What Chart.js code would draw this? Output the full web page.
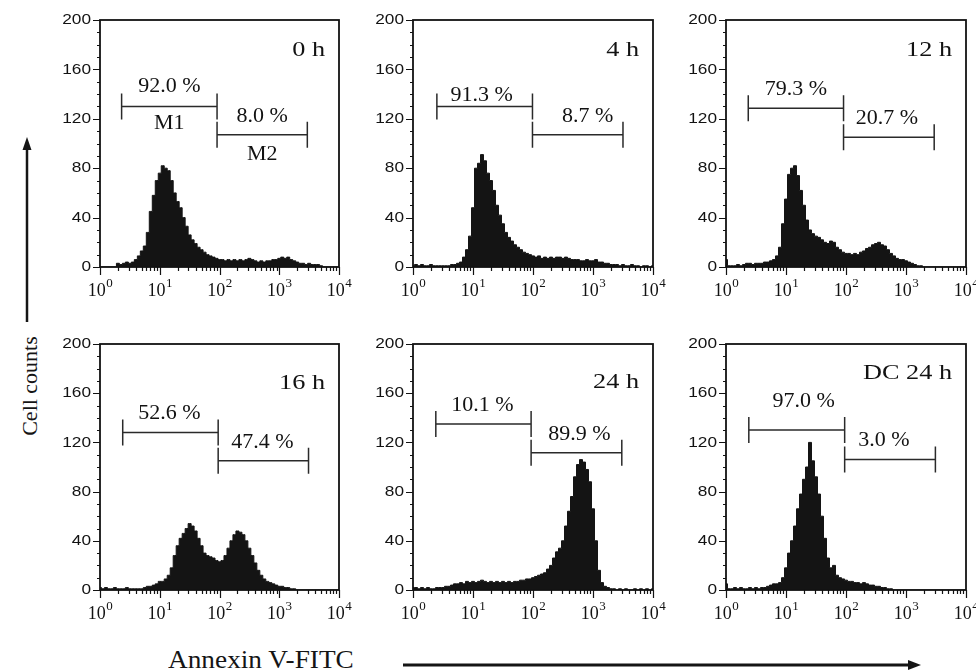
<!DOCTYPE html>
<html>
<head>
<meta charset="utf-8">
<title>Annexin V-FITC histograms</title>
<script src="https://cdn.jsdelivr.net/npm/chart.js@4.4.1/dist/chart.umd.min.js"></script>
<style>
  body { margin: 0; background: #fff; }
  #figure { position: relative; width: 976px; height: 672px; overflow: hidden; font-family: "Liberation Serif", "Times New Roman", serif; color: #151515; }
  #figure canvas { position: absolute; }
  .axisTitle { position: absolute; white-space: nowrap; line-height: 1; }
  #xTitle { left: 168px; top: 647px; font-size: 26px; transform-origin: left top; transform: scaleX(1.05); }
  #yTitle { left: 30px; top: 386px; font-size: 22px; transform: translate(-50%, -50%) rotate(-90deg); }
  #arrows { position: absolute; left: 0; top: 0; }
</style>
</head>
<body>
<div id="figure">
  <svg id="arrows" width="976" height="672">
    <line x1="27" y1="322" x2="27" y2="148" stroke="#151515" stroke-width="2.5" />
    <polygon points="27,137 22.5,150 31.5,150" fill="#151515" />
    <line x1="403" y1="665" x2="910" y2="665" stroke="#151515" stroke-width="3" />
    <polygon points="921,665 908,660 908,670" fill="#151515" />
  </svg>
  <div class="axisTitle" id="xTitle">Annexin V-FITC</div>
  <div class="axisTitle" id="yTitle">Cell counts</div>
</div>
<script>
// ---- data ----
const panelTitles = ['0 h', '4 h', '12 h', '16 h', '24 h', 'DC 24 h'];

// channel positions, in decades (10^0 .. 10^4)
const channelExp = [0, 0.05, 0.1, 0.15, 0.2, 0.25, 0.3, 0.35, 0.4, 0.45,
  0.5, 0.55, 0.6, 0.65, 0.7, 0.75, 0.8, 0.85, 0.9, 0.95,
  1, 1.05, 1.1, 1.15, 1.2, 1.25, 1.3, 1.35, 1.4, 1.45,
  1.5, 1.55, 1.6, 1.65, 1.7, 1.75, 1.8, 1.85, 1.9, 1.95,
  2, 2.05, 2.1, 2.15, 2.2, 2.25, 2.3, 2.35, 2.4, 2.45,
  2.5, 2.55, 2.6, 2.65, 2.7, 2.75, 2.8, 2.85, 2.9, 2.95,
  3, 3.05, 3.1, 3.15, 3.2, 3.25, 3.3, 3.35, 3.4, 3.45,
  3.5, 3.55, 3.6, 3.65, 3.7, 3.75, 3.8, 3.85, 3.9, 3.95, 4];

const hist0h = [0, 0, 0, 0, 0, 0, 3, 2, 3, 4,
  3, 4, 6, 9, 13, 17, 28, 45, 58, 70,
  76, 82, 80, 78, 70, 60, 53, 48, 40, 33,
  26, 22, 19, 16, 14, 12, 10, 9, 8, 7,
  6, 6, 5, 6, 5, 6, 5, 6, 5, 6,
  7, 6, 5, 4, 5, 4, 5, 5, 6, 6,
  7, 8, 7, 8, 6, 5, 4, 3, 3, 2,
  3, 2, 2, 2, 1, 0, 0, 0, 0, 0, 0];

const hist4h = [1, 2, 1, 2, 1, 1, 2, 1, 1, 1,
  1, 1, 1, 2, 2, 3, 4, 8, 14, 25,
  48, 80, 84, 91, 86, 76, 70, 62, 50, 42,
  35, 28, 24, 21, 18, 16, 14, 12, 11, 10,
  9, 8, 9, 7, 8, 7, 8, 7, 8, 8,
  7, 8, 7, 6, 6, 6, 5, 5, 6, 5,
  5, 6, 4, 4, 3, 3, 2, 2, 2, 1,
  2, 1, 1, 2, 1, 1, 0, 1, 1, 0, 1];

const hist12h = [6, 1, 1, 1, 2, 1, 2, 3, 3, 2,
  3, 3, 3, 4, 4, 5, 6, 9, 16, 35,
  55, 75, 80, 82, 74, 62, 50, 38, 30, 27,
  25, 24, 22, 20, 19, 21, 20, 16, 14, 12,
  11, 11, 10, 11, 10, 12, 13, 15, 16, 18,
  19, 20, 18, 17, 14, 11, 9, 7, 6, 6,
  5, 4, 3, 2, 1, 1, 0, 0, 0, 0,
  0, 0, 0, 0, 0, 0, 0, 0, 0, 0, 0];

const hist16h = [2, 1, 2, 1, 1, 2, 1, 1, 1, 2,
  1, 1, 1, 1, 1, 2, 3, 3, 4, 5,
  7, 7, 9, 12, 18, 28, 36, 42, 46, 50,
  54, 52, 48, 42, 36, 30, 28, 27, 26, 24,
  23, 24, 28, 34, 40, 45, 48, 47, 45, 40,
  34, 28, 22, 16, 12, 9, 7, 6, 5, 4,
  3, 3, 2, 2, 1, 1, 0, 0, 0, 0,
  0, 0, 0, 0, 0, 0, 0, 0, 0, 0, 0];

const hist24h = [2, 2, 1, 2, 1, 2, 1, 1, 2, 2,
  2, 3, 3, 4, 5, 5, 6, 5, 7, 6,
  7, 6, 7, 8, 7, 6, 7, 6, 7, 6,
  7, 6, 7, 6, 7, 7, 8, 8, 9, 9,
  10, 11, 12, 13, 14, 17, 20, 26, 31, 34,
  40, 52, 64, 76, 92, 102, 106, 104, 98, 88,
  66, 40, 16, 6, 3, 2, 1, 1, 0, 1,
  0, 1, 0, 0, 1, 0, 1, 0, 1, 0, 1];

const histDC24h = [5, 1, 1, 2, 1, 2, 1, 1, 2, 1,
  2, 1, 2, 2, 3, 4, 5, 5, 6, 10,
  18, 30, 40, 52, 66, 78, 90, 100, 120, 105,
  92, 78, 60, 42, 26, 18, 20, 12, 10, 9,
  8, 7, 7, 6, 6, 5, 6, 5, 4, 4,
  3, 3, 2, 2, 1, 1, 0, 0, 0, 0,
  0, 0, 0, 0, 0, 0, 0, 0, 0, 0,
  0, 0, 0, 0, 0, 0, 0, 0, 0, 0, 0];

// gate markers M1 / M2 (channel values) and their percentages
const gateLow = [2.3, 2.5, 2.35, 2.4, 2.4, 2.4];
const gateMid = [91, 98, 91, 95, 93, 95];
const gateHigh = [2950, 3160, 2950, 3090, 3020, 3090];
const pctM1 = ['92.0 %', '91.3 %', '79.3 %', '52.6 %', '10.1 %', '97.0 %'];
const pctM2 = ['8.0 %', '8.7 %', '20.7 %', '47.4 %', '89.9 %', '3.0 %'];

const yTickLabels = [0, 40, 80, 120, 160, 200];
const xDecades = [1, 10, 100, 1000, 10000];
const xDecadeExp = ['0', '1', '2', '3', '4'];

const histograms = [hist0h, hist4h, hist12h, hist16h, hist24h, histDC24h];

// ---- layout ----
const panelLeft = [100, 413, 726, 100, 413, 726];
const panelTop = [20, 20, 20, 344, 344, 344];
const panelW = [239, 240, 240, 239, 240, 240];
const panelH = [247, 247, 247, 246, 246, 246];
const PAD = { left: 55, top: 12, right: 14, bottom: 40 };

const m1Level = [130, 130, 128.5, 128, 135, 130];
const m2Level = [107, 107, 105, 105, 111.5, 106];
const m1Lift = [20, 11, 18.5, 19, 18.5, 28];
const m1Dx = [0, -3, 0, -1, -1, 7];
const m2Dx = [0, 10, -2, -1, 3, -6];
const titleLevel = [175, 175, 175, 168, 169, 176];

const INK = '#121212';

function stretchText(ctx, text, x, y, sx, align) {
    ctx.save();
    ctx.translate(x, y);
    ctx.scale(sx, 1);
    ctx.textAlign = align;
    ctx.fillText(text, 0, 0);
    ctx.restore();
}

function drawGate(ctx, x1, x2, y) {
    ctx.beginPath();
    ctx.moveTo(x1, y); ctx.lineTo(x2, y);
    ctx.moveTo(x1, y - 13); ctx.lineTo(x1, y + 13);
    ctx.moveTo(x2, y - 13); ctx.lineTo(x2, y + 13);
    ctx.stroke();
}

// frame, ticks, tick labels, gates and titles for one panel
const panelDecor = {
    id: 'panelDecor',
    afterDatasetsDraw(chart, args, opts) {
        const i = opts.index;
        const ctx = chart.ctx;
        const xs = chart.scales.x;
        const ys = chart.scales.y;
        const a = chart.chartArea;
        ctx.save();
        ctx.strokeStyle = INK;
        ctx.fillStyle = INK;

        ctx.lineWidth = 1.8;
        ctx.strokeRect(a.left, a.top, a.right - a.left, a.bottom - a.top);

        // y ticks (major every 40, minor every 10)
        ctx.lineWidth = 1.2;
        ctx.beginPath();
        for (let v = 0; v <= 200; v += 10) {
            const py = Math.round(ys.getPixelForValue(v)) + 0.5;
            const len = v % 40 === 0 ? 7 : 3;
            ctx.moveTo(a.left - len, py);
            ctx.lineTo(a.left, py);
        }
        // x ticks (decades long, 2..9 short)
        xDecades.forEach((d, k) => {
            const px = Math.round(xs.getPixelForValue(d)) + 0.5;
            ctx.moveTo(px, a.bottom);
            ctx.lineTo(px, a.bottom + 8);
            if (k < xDecades.length - 1) {
                for (let m = 2; m <= 9; m++) {
                    const pm = Math.round(xs.getPixelForValue(d * m)) + 0.5;
                    ctx.moveTo(pm, a.bottom);
                    ctx.lineTo(pm, a.bottom + 4);
                }
            }
        });
        ctx.stroke();

        // y tick labels
        ctx.font = '15px "Liberation Sans", Arial, sans-serif';
        ctx.textBaseline = 'middle';
        yTickLabels.forEach(v => {
            stretchText(ctx, String(v), a.left - 9, ys.getPixelForValue(v), 1.15, 'right');
        });

        // x tick labels 10^n
        ctx.textBaseline = 'alphabetic';
        ctx.textAlign = 'left';
        xDecades.forEach((d, k) => {
            const px = xs.getPixelForValue(d);
            ctx.font = '18px "Liberation Serif", serif';
            const w1 = ctx.measureText('10').width;
            ctx.font = '13px "Liberation Serif", serif';
            const w2 = ctx.measureText(xDecadeExp[k]).width;
            const x0 = px - (w1 + w2) / 2;
            ctx.font = '18px "Liberation Serif", serif';
            ctx.fillText('10', x0, a.bottom + 29);
            ctx.font = '13px "Liberation Serif", serif';
            ctx.fillText(xDecadeExp[k], x0 + w1 + 0.5, a.bottom + 20);
        });

        // gates M1 and M2
        ctx.strokeStyle = '#2a2a2a';
        ctx.lineWidth = 1.5;
        const gl = xs.getPixelForValue(gateLow[i]);
        const gm = xs.getPixelForValue(gateMid[i]);
        const gh = xs.getPixelForValue(gateHigh[i]);
        const y1 = ys.getPixelForValue(m1Level[i]);
        const y2 = ys.getPixelForValue(m2Level[i]);
        drawGate(ctx, gl, gm, y1);
        drawGate(ctx, gm, gh, y2);

        ctx.font = '20px "Liberation Serif", serif';
        ctx.textBaseline = 'middle';
        stretchText(ctx, pctM1[i], (gl + gm) / 2 + m1Dx[i], y1 - m1Lift[i], 1.1, 'center');
        stretchText(ctx, pctM2[i], (gm + gh) / 2 + m2Dx[i], y2 - 18.5, 1.1, 'center');
        if (i === 0) {
            stretchText(ctx, 'M1', (gl + gm) / 2, y1 + 17, 1.1, 'center');
            stretchText(ctx, 'M2', (gm + gh) / 2, y2 + 20, 1.1, 'center');
        }

        // panel title
        ctx.font = '21px "Liberation Serif", serif';
        stretchText(ctx, panelTitles[i], a.right - 14, ys.getPixelForValue(titleLevel[i]), 1.25, 'right');
        ctx.restore();
    }
};

const figure = document.getElementById('figure');

function makePanel(i) {
    const canvas = document.createElement('canvas');
    const w = PAD.left + panelW[i] + PAD.right;
    const h = PAD.top + panelH[i] + PAD.bottom;
    canvas.width = w;
    canvas.height = h;
    canvas.style.width = w + 'px';
    canvas.style.height = h + 'px';
    canvas.style.left = (panelLeft[i] - PAD.left) + 'px';
    canvas.style.top = (panelTop[i] - PAD.top) + 'px';
    figure.appendChild(canvas);

    const points = channelExp.map((e, k) => ({ x: Math.pow(10, e), y: histograms[i][k] }));

    new Chart(canvas, {
        type: 'line',
        data: {
            datasets: [{
                data: points,
                fill: 'origin',
                stepped: 'middle',
                backgroundColor: '#141414',
                borderColor: '#141414',
                borderWidth: 1,
                pointRadius: 0
            }]
        },
        options: {
            responsive: false,
            animation: false,
            devicePixelRatio: 1,
            layout: { padding: PAD },
            scales: {
                x: { type: 'logarithmic', min: 1, max: 10000, display: false },
                y: { type: 'linear', min: 0, max: 200, display: false }
            },
            plugins: {
                legend: { display: false },
                tooltip: { enabled: false },
                panelDecor: { index: i }
            }
        },
        plugins: [panelDecor]
    });
}

for (let i = 0; i < 6; i++) makePanel(i);
</script>
</body>
</html>
